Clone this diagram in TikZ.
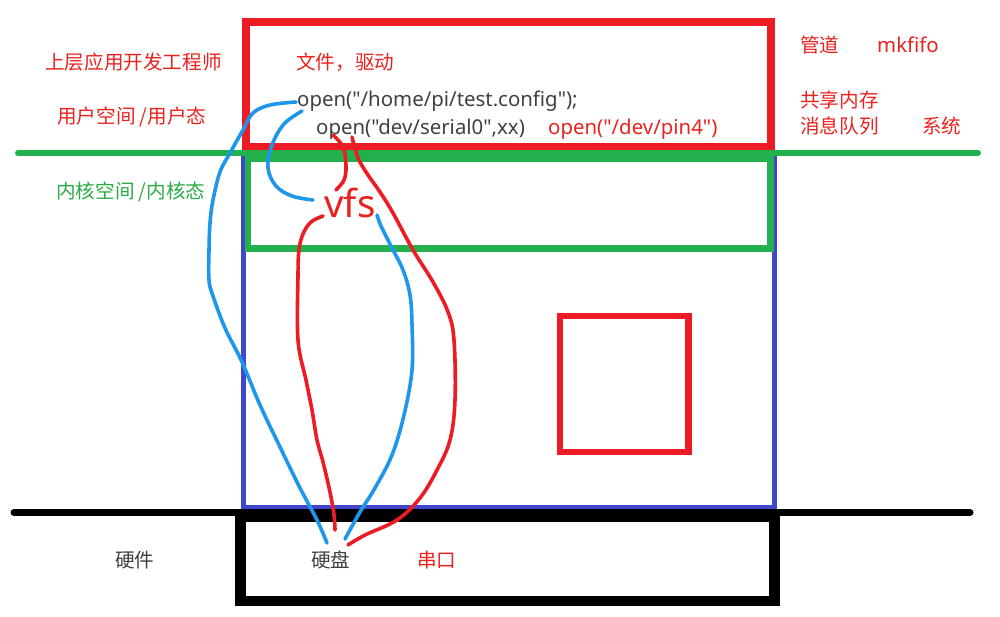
\documentclass[tikz,border=0pt]{standalone}
\usepackage{fontspec}
\setmainfont{Noto Sans}
\newfontfamily\latin{Noto Sans}
\newfontfamily\cjk{Noto Sans CJK SC}
\definecolor{pred}{HTML}{ED1C24}
\definecolor{pgreen}{HTML}{22B14C}
\definecolor{pblue}{HTML}{3F48CC}
\definecolor{cblue}{HTML}{1E96EC}
\definecolor{tgray}{HTML}{404040}
\definecolor{tred}{HTML}{E8221E}
\definecolor{tgreen}{HTML}{2BAA45}
\tikzset{
  lat/.style={inner sep=0pt, anchor=west, font=\latin\fontsize{20.4}{24}\selectfont},
  cn/.style={inner sep=0pt, anchor=west, font=\cjk\fontsize{19.6}{24}\selectfont},
  bcurve/.style={draw=cblue, line width=3.6pt, line cap=round, line join=round},
  rcurve/.style={draw=pred, line width=3.6pt, line cap=round, line join=round},
}
\begin{document}
\begin{tikzpicture}[x=1pt,y=-1pt]
\useasboundingbox (0,0) rectangle (1000,616);
% boxes
\draw[pred, line width=8pt] (246,22) rectangle (770.5,146.5);
\draw[pblue, line width=5pt] (243,158) rectangle (774.5,507);
\draw[pgreen, line width=6.5pt] (248,159) rectangle (770.5,248.5);
\draw[pgreen, line width=6pt, line cap=round] (18,153) -- (978,153);
\draw[pred, line width=6.5pt] (560,316) rectangle (688.5,452);
\draw[black, line width=10.5pt] (240.5,517) rectangle (774.5,601);
\draw[black, line width=7pt, line cap=round] (14,512.5) -- (970,512.5);
% labels
\node[cn, text=tred] (upper) at (45,62) {上层应用开发工程师};
\node[cn, text=tred] (user) at (57,117) {用户空间 /用户态};
\node[cn, text=tgreen] (kernel) at (56,192) {内核空间 /内核态};
\node[cn, text=tred] (file) at (296,62) {文件，驱动};
\node[lat, text=tgray] (open1) at (297,101) {open("/home/pi/test.config");};
\node[lat, text=tgray] (open2) at (316,129) {open("dev/serial0",xx)};
\node[lat, text=tred] (open3) at (548,129) {open("/dev/pin4")};
\node[cn, text=tred] (pipe) at (800,45) {管道};
\node[lat, text=tred] (mkfifo) at (877,45) {mkfifo};
\node[cn, text=tred] (shm) at (800,100) {共享内存};
\node[cn, text=tred] (msgq) at (800,126) {消息队列};
\node[cn, text=tred] (sys) at (922,126) {系统};
\node[inner sep=0pt, anchor=west, text=tred, font=\latin\fontsize{38.5}{42}\selectfont] (vfs) at (324,203) {vfs};
\node[cn, text=tgray] (hw) at (115,560) {硬件};
\node[cn, text=tgray] (disk) at (311,560) {硬盘};
\node[cn, text=tred] (serial) at (417,560) {串口};
% curve end points
\coordinate (a0) at (296,102);
\coordinate (a1) at (327,543);
\coordinate (b0) at (302,111);
\coordinate (b1) at (313,200);
\coordinate (c0) at (377,215);
\coordinate (c1) at (345,539);
\coordinate (d0) at (333,135);
\coordinate (d1) at (336,190);
\coordinate (e0) at (352,137);
\coordinate (e1) at (348,545);
\coordinate (f0) at (323,216);
\coordinate (f1) at (335,530);
% blue curves
\draw[bcurve] plot[smooth, tension=0.6] coordinates {(a0) (270,105) (253,113) (243,130) (230,153) (220,172) (213,200) (210,223) (209,250) (209,280) (213,296) (225,328) (242,362) (260,405) (280,447) (300,488) (317,520) (a1)};
\draw[bcurve] plot[smooth, tension=0.6] coordinates {(b0) (284,124) (272,145) (268,168) (276,186) (292,196) (b1)};
\draw[bcurve] plot[smooth, tension=0.6] coordinates {(c0) (381,226) (392,248) (403,270) (410,295) (412,325) (412,370) (404,415) (392,455) (375,488) (360,512) (c1)};
% red curves
\draw[rcurve] plot[smooth, tension=0.6] coordinates {(d0) (343,147) (346,166) (344,180) (d1)};
\draw[rcurve] plot[smooth, tension=0.6] coordinates {(e0) (358,158) (368,175) (380,192) (393,213) (413,250) (433,282) (448,312) (454,340) (455,400) (450,440) (437,470) (420,498) (397,520) (365,535) (e1)};
\draw[rcurve] plot[smooth, tension=0.6] coordinates {(f0) (311,222) (303,234) (299,250) (298,275) (298,340) (306,380) (312,410) (317,440) (323,462) (330,492) (334,515) (f1)};
\end{tikzpicture}
\end{document}
